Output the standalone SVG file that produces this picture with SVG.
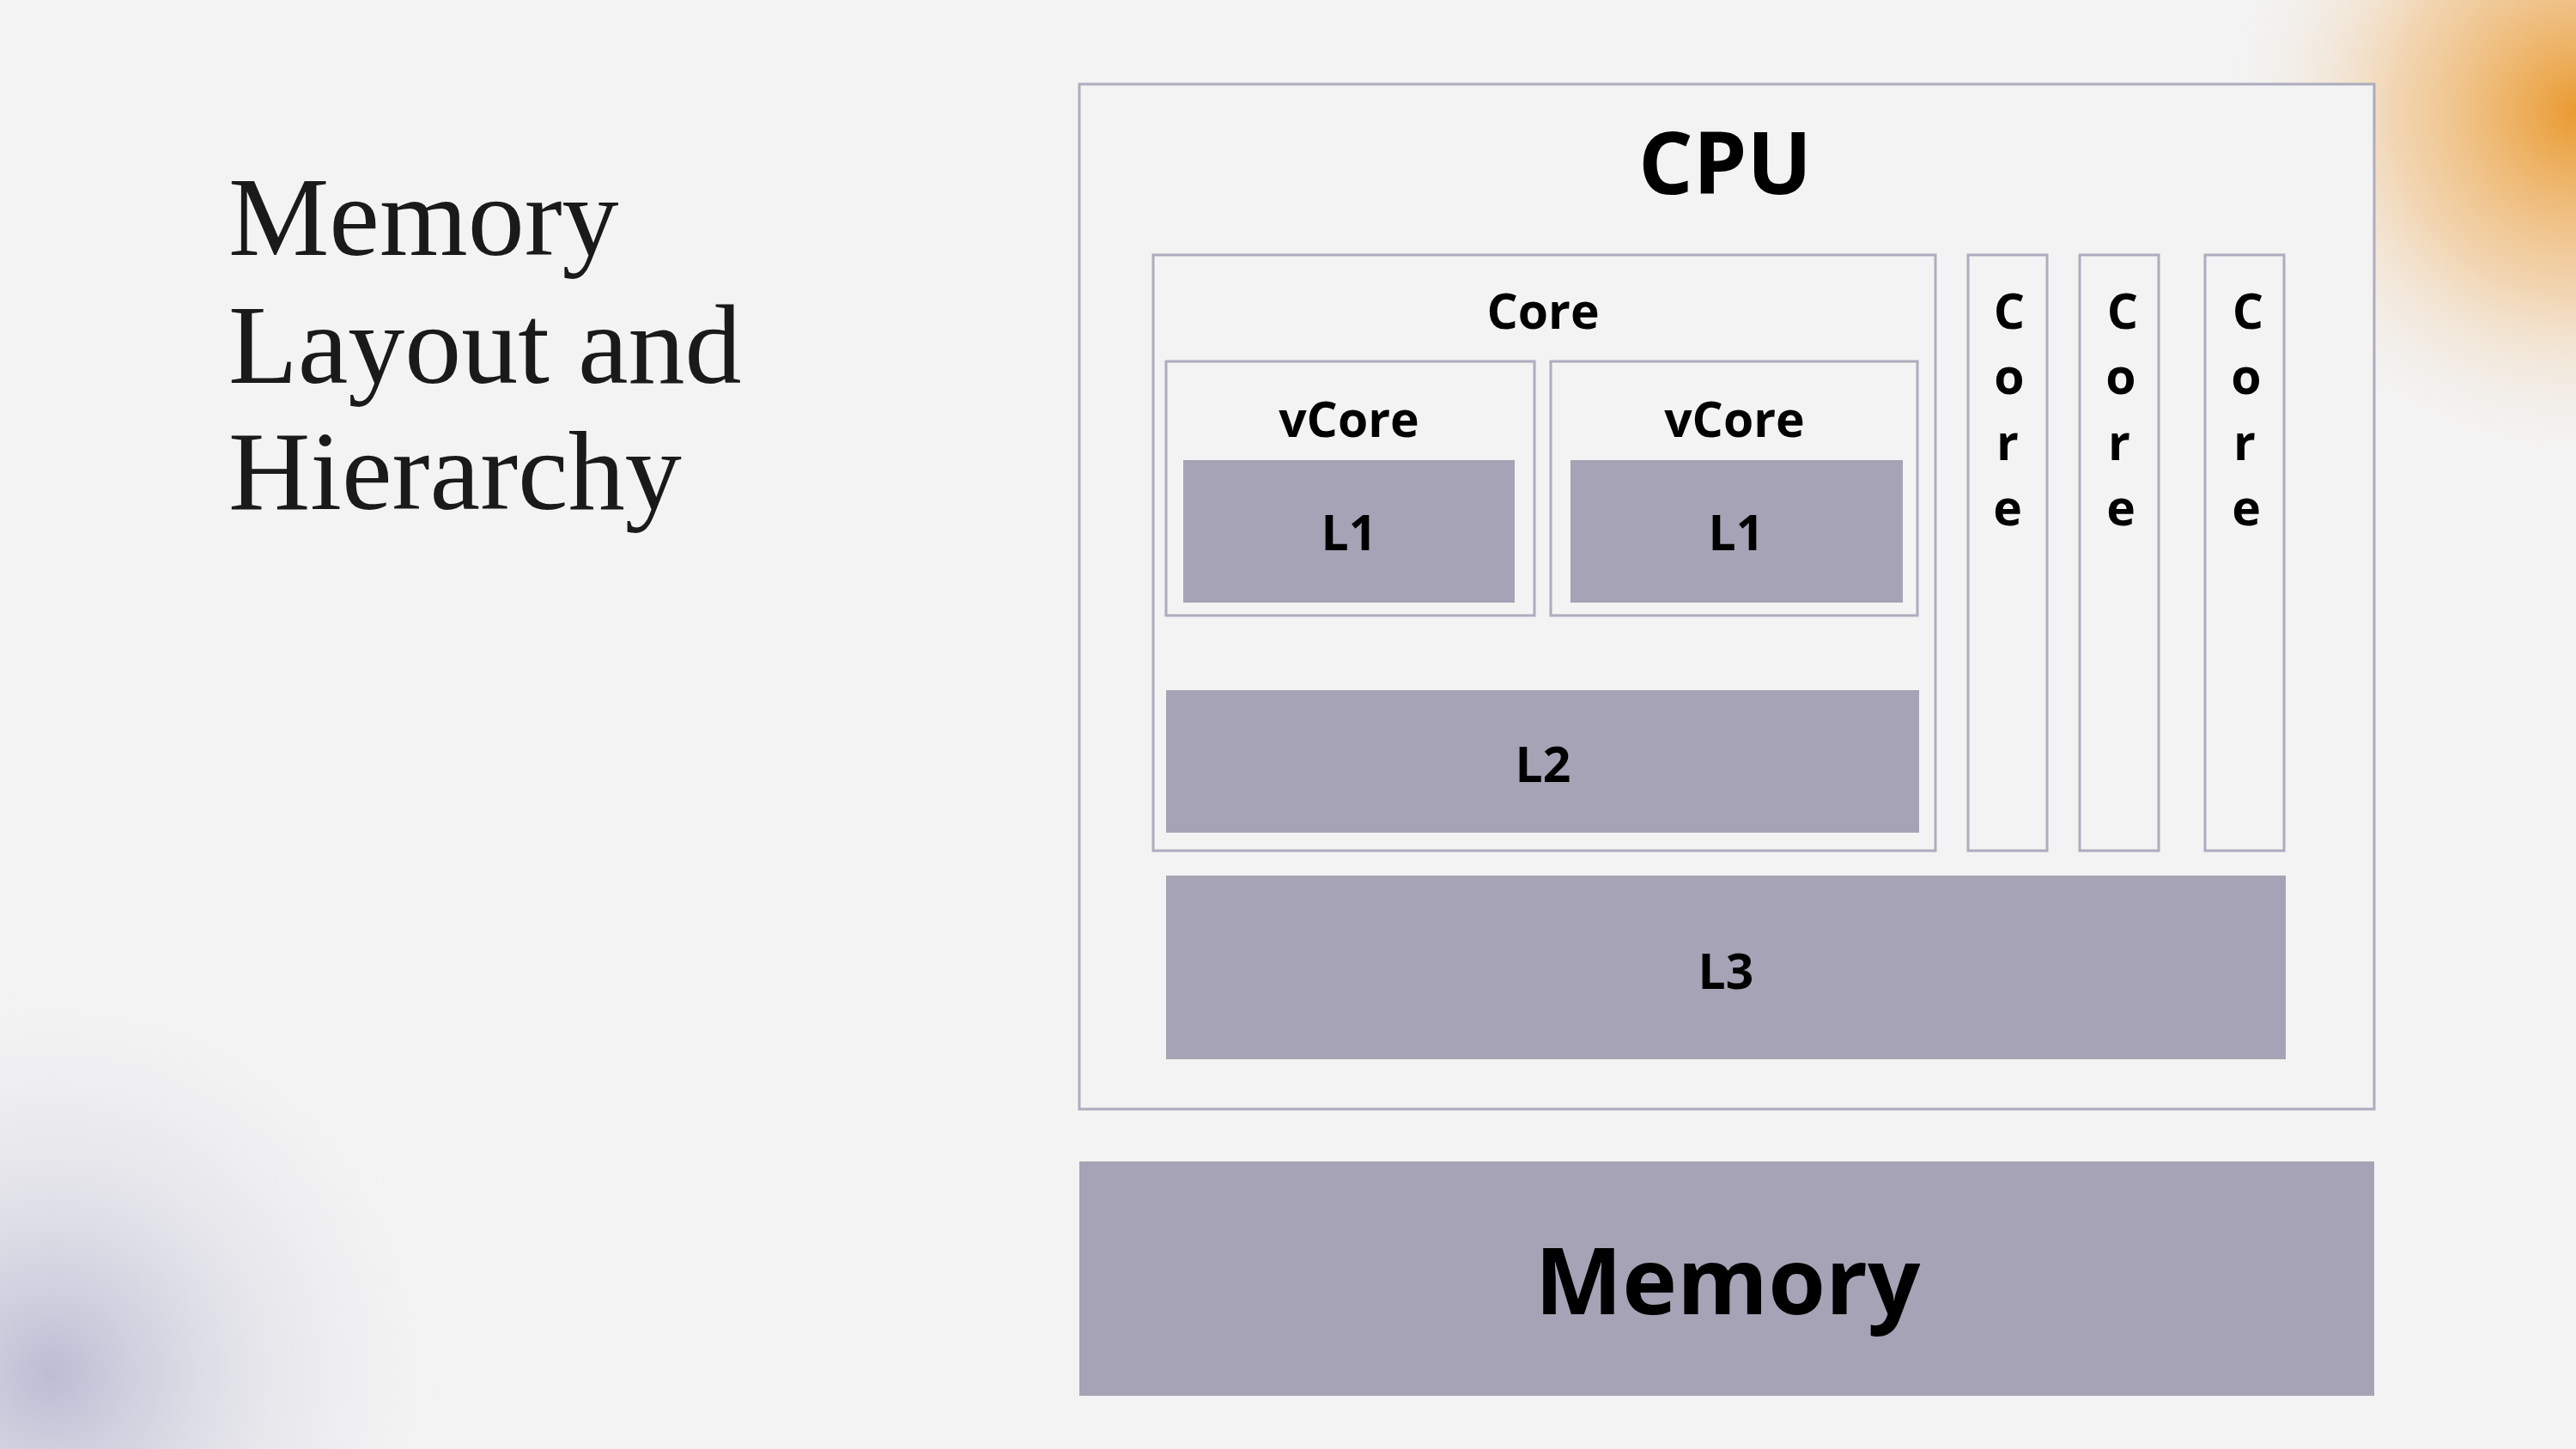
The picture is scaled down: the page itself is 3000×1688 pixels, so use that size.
<svg xmlns="http://www.w3.org/2000/svg" width="3000" height="1688" viewBox="0 0 3000 1688">
<defs>
<radialGradient id="og" cx="3000" cy="130" r="420" gradientUnits="userSpaceOnUse">
<stop offset="0" stop-color="#e8901a" stop-opacity="0.9"/><stop offset="0.5" stop-color="#f0b060" stop-opacity="0.45"/><stop offset="1" stop-color="#f3f3f3" stop-opacity="0"/></radialGradient>
<radialGradient id="pg" cx="60" cy="1600" r="480" gradientUnits="userSpaceOnUse">
<stop offset="0" stop-color="#b6b6d0" stop-opacity="0.9"/><stop offset="1" stop-color="#f3f3f3" stop-opacity="0"/></radialGradient>
<style>
.box{fill:#f3f3f3;stroke:#aeacbd;stroke-width:3}
.blk{fill:#a5a3b5}
.lb{font-family:"Open Sans","Liberation Sans",sans-serif;font-weight:700;fill:#000;text-anchor:middle}
.ttl{font-family:"Liberation Serif","DejaVu Serif",serif;font-size:132px;fill:#1a1a1a}
</style>
</defs>
<rect width="3000" height="1688" fill="#f3f3f3"/>
<rect width="3000" height="1688" fill="url(#og)"/>
<rect width="3000" height="1688" fill="url(#pg)"/>
<g id="title"><text class="ttl" x="266" y="297">Memory</text><text class="ttl" x="266" y="446">Layout and</text><text class="ttl" x="266" y="593">Hierarchy</text></g>
<g id="cpu"><rect class="box" x="1257" y="98" width="1508" height="1194"/><text class="lb" x="2009" y="226" font-size="100">CPU</text></g>
<g id="core"><rect class="box" x="1343" y="297" width="911" height="694"/><text class="lb" x="1797" y="383" font-size="57">Core</text></g>
<g id="vcore1"><rect class="box" x="1358" y="421" width="429" height="296"/><text class="lb" x="1571" y="509" font-size="57">vCore</text></g>
<g id="l1a"><rect class="blk" x="1378" y="536" width="386" height="166"/><text class="lb" x="1571" y="641" font-size="57">L1</text></g>
<g id="vcore2"><rect class="box" x="1806" y="421" width="427" height="296"/><text class="lb" x="2020" y="509" font-size="57">vCore</text></g>
<g id="l1b"><rect class="blk" x="1829" y="536" width="387" height="166"/><text class="lb" x="2022" y="641" font-size="57">L1</text></g>
<g id="l2"><rect class="blk" x="1358" y="804" width="877" height="166"/><text class="lb" x="1797" y="911" font-size="57">L2</text></g>
<g id="core2"><rect class="box" x="2292" y="297" width="92" height="694"/><text class="lb" x="2340" y="383" font-size="57">C</text><text class="lb" x="2340" y="459" font-size="57">o</text><text class="lb" x="2338" y="536" font-size="57">r</text><text class="lb" x="2338" y="612" font-size="57">e</text></g>
<g id="core3"><rect class="box" x="2422" y="297" width="92" height="694"/><text class="lb" x="2472" y="383" font-size="57">C</text><text class="lb" x="2470" y="459" font-size="57">o</text><text class="lb" x="2468" y="536" font-size="57">r</text><text class="lb" x="2470" y="612" font-size="57">e</text></g>
<g id="core4"><rect class="box" x="2568" y="297" width="92" height="694"/><text class="lb" x="2618" y="383" font-size="57">C</text><text class="lb" x="2616" y="459" font-size="57">o</text><text class="lb" x="2614" y="536" font-size="57">r</text><text class="lb" x="2616" y="612" font-size="57">e</text></g>
<g id="l3"><rect class="blk" x="1358" y="1020" width="1304" height="214"/><text class="lb" x="2010" y="1152" font-size="57">L3</text></g>
<g id="memory"><rect class="blk" x="1257" y="1353" width="1508" height="273"/><text class="lb" x="2012" y="1531" font-size="108">Memory</text></g>
<g id="connectors"/>
</svg>
